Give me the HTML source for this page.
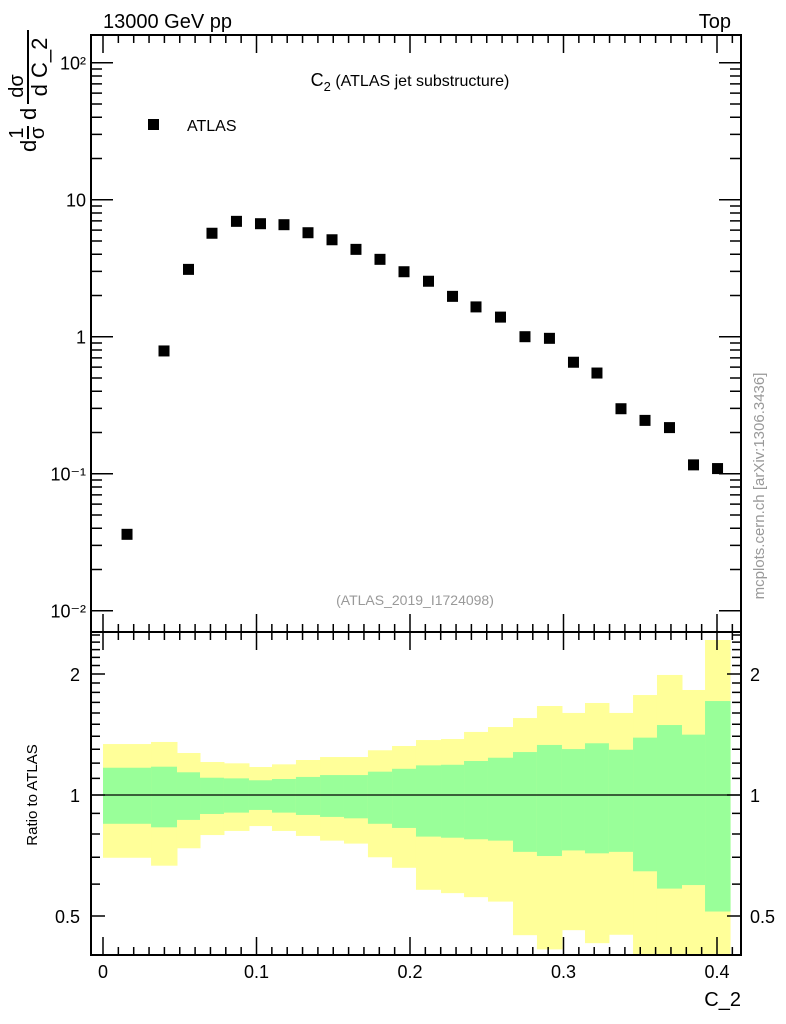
<!DOCTYPE html>
<html><head><meta charset="utf-8"><style>
body{margin:0;background:#fff;width:786px;height:1024px;overflow:hidden}
svg{display:block;font-family:"Liberation Sans",sans-serif}
</style></head><body>
<svg id="chart" width="786" height="1024" xmlns="http://www.w3.org/2000/svg">
<rect width="786" height="1024" fill="#fff"/>
<g id="bands"></g>
<g id="axes"></g>
<g id="marks"></g>
<text x="103" y="28" font-size="20">13000 GeV pp</text>
<text x="731" y="28" font-size="20" text-anchor="end">Top</text>
<text x="410" y="86" font-size="18" text-anchor="middle">C<tspan font-size="13" dy="5">2</tspan><tspan dy="-5" font-size="16"> (ATLAS jet substructure)</tspan></text>
<rect x="148" y="119" width="11" height="11" fill="#000"/>
<text x="187" y="131" font-size="16">ATLAS</text>
<text x="415" y="605" font-size="14" fill="#999" text-anchor="middle">(ATLAS_2019_I1724098)</text>
<text transform="translate(764,486) rotate(-90)" font-size="15" fill="#999" text-anchor="middle">mcplots.cern.ch [arXiv:1306.3436]</text>
<g transform="translate(26,152) rotate(-90)" font-size="22">
<text x="0" y="10" font-size="22">d</text>
<text x="19" y="-3" text-anchor="middle" font-size="20">1</text>
<line x1="13" y1="2" x2="26" y2="2" stroke="#000" stroke-width="2"/>
<text x="19" y="18" text-anchor="middle" font-size="20">σ</text>
<text x="32" y="10" font-size="22">d</text>
<text x="66" y="-3" text-anchor="middle" font-size="20">dσ</text>
<line x1="48" y1="2" x2="122" y2="2" stroke="#000" stroke-width="2"/>
<text x="85" y="21" text-anchor="middle" font-size="22">d C_2</text>
</g>
<text transform="translate(37,795) rotate(-90)" font-size="15" text-anchor="middle">Ratio to ATLAS</text>
<text x="741" y="1006" font-size="20" text-anchor="end">C_2</text>
</svg>
<script>
const edges=[0,0.0313,0.0482,0.0632,0.0788,0.0951,0.1101,0.1257,0.1414,0.1570,0.1726,0.1883,0.2039,0.2202,0.2352,0.2508,0.2671,0.2827,0.2990,0.3140,0.3296,0.3453,0.3609,0.3772,0.3922,0.4085];
const values=[0.0361,0.787,3.10,5.69,6.95,6.68,6.57,5.74,5.10,4.34,3.67,2.98,2.54,1.97,1.65,1.39,1.00,0.973,0.651,0.543,0.298,0.245,0.217,0.116,0.109];
const yellowHi=[1.339,1.355,1.272,1.208,1.199,1.174,1.192,1.222,1.243,1.243,1.292,1.324,1.370,1.378,1.435,1.476,1.554,1.665,1.600,1.694,1.600,1.773,1.989,1.825,2.43];
const greenHi=[1.169,1.176,1.139,1.104,1.100,1.088,1.096,1.109,1.121,1.121,1.143,1.162,1.185,1.189,1.215,1.238,1.279,1.332,1.301,1.345,1.296,1.389,1.493,1.413,1.713];
const greenLo=[0.848,0.831,0.867,0.897,0.904,0.918,0.904,0.892,0.882,0.875,0.848,0.828,0.788,0.783,0.776,0.770,0.722,0.705,0.728,0.716,0.722,0.646,0.585,0.597,0.513];
const yellowLo=[0.698,0.667,0.737,0.795,0.814,0.837,0.814,0.791,0.770,0.757,0.700,0.659,0.581,0.570,0.557,0.543,0.448,0.413,0.461,0.428,0.449,0.3,0.3,0.3,0.3];
const xTicks=[0,0.1,0.2,0.3,0.4];
const yTickLabels=["10\u207B\u00B2","10\u207B\u00B9","1","10","10\u00B2"];
const rTicks=[0.5,1,2];

const NS="http://www.w3.org/2000/svg";
const L=91,R=741,T=35,M=632,B=955;
const X=v=>103+v*1535;
const Y=v=>336.7-137*Math.log10(v);
const RY=v=>795-121*Math.log2(v);
const clampR=y=>Math.max(M,Math.min(B,y));
function mk(tag,attrs,parent){const e=document.createElementNS(NS,tag);for(const k in attrs)e.setAttribute(k,attrs[k]);parent.appendChild(e);return e;}
const bands=document.getElementById('bands'),axes=document.getElementById('axes'),marks=document.getElementById('marks');
for(let i=0;i<values.length;i++){
  const x0=X(edges[i]),x1=X(edges[i+1]);
  const yb=mk('rect',{x:x0,y:clampR(RY(yellowHi[i])),width:x1-x0+0.5,height:clampR(RY(yellowLo[i]))-clampR(RY(yellowHi[i])),fill:'#ffff99'},bands);
  
  
  const gb=mk('rect',{x:x0,y:RY(greenHi[i]),width:x1-x0+0.5,height:RY(greenLo[i])-RY(greenHi[i]),fill:'#99ff99'},bands);
  
  
  const c=(edges[i]+edges[i+1])/2;
  const p=mk('rect',{x:X(c)-5.5,y:Y(values[i])-5.5,width:11,height:11,fill:'#000'},marks);
  
  
}
const ref=mk('line',{x1:L,x2:R,y1:RY(1),y2:RY(1),stroke:'#000','stroke-width':1.2},axes);


const fr=mk('path',{d:`M${L},${T}H${R}V${B}H${L}Z M${L},${M}H${R}`,fill:'none',stroke:'#000','stroke-width':2},axes);


let d='';
for(let k=0;k<=41;k++){const x=X(k/100);const len=(k%10==0)?18:8;
  d+=`M${x},${T}v${len}M${x},${M}v-${len}M${x},${M}v${len}M${x},${B}v-${len}`;}
for(let e=-2;e<=2;e++)for(let m=1;m<10;m++){const y=Y(m*Math.pow(10,e));if(y<T||y>M)continue;const len=m==1?22:11;d+=`M${L},${y}h${len}M${R},${y}h-${len}`;}
for(let v=0.4;v<=2.6;v+=0.1){const y=RY(v);if(y<M||y>B)continue;const maj=[0.5,1,2].some(t=>Math.abs(t-v)<1e-6);const len=maj?14:9;d+=`M${L},${y}h${len}M${R},${y}h-${len}`;}
const tk=mk('path',{d:d,stroke:'#000','stroke-width':1.5,fill:'none'},axes);


xTicks.forEach(v=>{const t=mk('text',{x:X(v),y:978,'font-size':18,'text-anchor':'middle'},axes);t.textContent=String(v);
  
  });
yTickLabels.forEach((s,i)=>{const t=mk('text',{x:86,y:Y(Math.pow(10,i-2))+7,'font-size':18,'text-anchor':'end'},axes);t.textContent=s;
  
  });
rTicks.forEach(v=>{[[80,'end'],[750,'start']].forEach(([x,a])=>{const t=mk('text',{x:x,y:RY(v)+7,'font-size':18,'text-anchor':a},axes);t.textContent=String(v);
  
  });});
</script>
</body></html>
